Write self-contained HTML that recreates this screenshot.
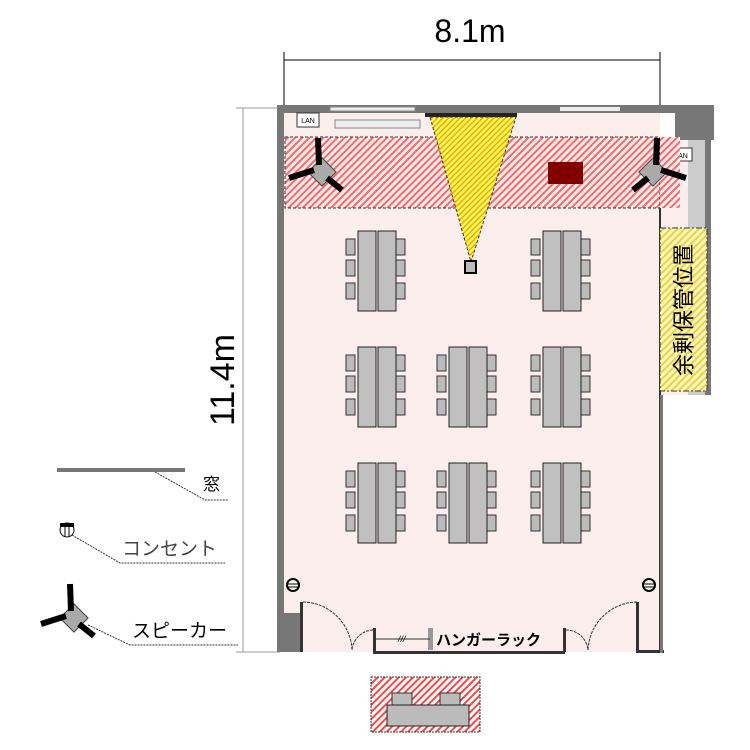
<!DOCTYPE html>
<html><head><meta charset="utf-8"><style>body{margin:0;background:#fff}svg{display:block}</style></head><body>
<svg width="750" height="750" xmlns="http://www.w3.org/2000/svg" font-family="Liberation Sans, Noto Sans CJK JP, sans-serif">
<defs>
<pattern id="h" width="5" height="5" patternUnits="userSpaceOnUse" patternTransform="rotate(45)"><rect width="5" height="5" fill="#fff"/><rect width="2" height="5" fill="#f44"/></pattern>
<pattern id="hp" width="5" height="5" patternUnits="userSpaceOnUse" patternTransform="rotate(45)"><rect width="5" height="5" fill="#fdeeee"/><rect width="2" height="5" fill="#f66"/></pattern>
<pattern id="y" width="5" height="5" patternUnits="userSpaceOnUse" patternTransform="rotate(45)"><rect width="5" height="5" fill="#fff8c0"/><rect width="2" height="5" fill="#f0d040"/></pattern>
<pattern id="yt" width="4" height="4" patternUnits="userSpaceOnUse" patternTransform="rotate(45)"><rect width="4" height="4" fill="#ffff40"/><rect width="1.5" height="4" fill="#f0a030"/></pattern>
<g id="grp">
<rect x="0" y="8" width="9" height="16" fill="#bbb" stroke="#333"/><rect x="0" y="29" width="9" height="16" fill="#bbb" stroke="#333"/><rect x="0" y="52" width="9" height="16" fill="#bbb" stroke="#333"/>
<rect x="50" y="8" width="9" height="16" fill="#bbb" stroke="#333"/><rect x="50" y="29" width="9" height="16" fill="#bbb" stroke="#333"/><rect x="50" y="52" width="9" height="16" fill="#bbb" stroke="#333"/>
<rect x="12" y="0" width="18" height="80" fill="#c0c0c0" stroke="#222"/><rect x="32" y="0" width="18" height="80" fill="#c0c0c0" stroke="#222"/>
</g>
<g id="spk"><rect x="-10" y="-10" width="20" height="20" fill="#aaa" stroke="#444" transform="rotate(45)"/><path d="M-3,-7 L-4,-34 M-8,-2 L-33,6 M5,6 L20,18" stroke="#000" stroke-width="6"/></g>
</defs>
<text x="470" y="42" font-size="32" text-anchor="middle">8.1m</text>
<line x1="284" y1="60" x2="660" y2="60" stroke="#000"/>
<line x1="284" y1="52" x2="284" y2="112" stroke="#000"/><line x1="660" y1="52" x2="660" y2="112" stroke="#000"/>
<line x1="243" y1="108" x2="243" y2="652" stroke="#999"/>
<line x1="236" y1="108" x2="280" y2="108" stroke="#999"/><line x1="236" y1="652" x2="280" y2="652" stroke="#999"/>
<text transform="translate(234,380) rotate(-90)" font-size="34" text-anchor="middle">11.4m</text>
<rect x="284" y="112" width="376" height="540" fill="#fdeeee"/>
<rect x="660" y="140" width="51" height="255" fill="#fdeeee"/>
<rect x="277" y="105" width="437" height="8" fill="#777"/>
<rect x="277" y="105" width="7" height="547" fill="#777"/>
<rect x="675" y="105" width="39" height="35" fill="#777"/>
<rect x="705" y="140" width="6" height="255" fill="#777"/>
<rect x="688" y="140" width="17" height="255" fill="#ccc"/>
<line x1="660" y1="140" x2="660" y2="652" stroke="#333" stroke-width="2"/>
<rect x="330" y="107" width="85" height="4" fill="#eee" stroke="#888"/>
<rect x="335" y="120" width="85" height="8" fill="#eee" stroke="#888"/>
<rect x="560" y="107" width="60" height="4" fill="#eee"/>
<rect x="297" y="113" width="22" height="14" fill="#fff" stroke="#333"/><text x="308" y="123" font-size="7" text-anchor="middle">LAN</text>
<rect x="670" y="148" width="22" height="13" fill="#fff" stroke="#333"/><text x="681" y="158" font-size="7" text-anchor="middle">LAN</text>
<rect x="285" y="137" width="375" height="71" fill="url(#hp)" stroke="#333" stroke-dasharray="3,2"/>
<rect x="660" y="137" width="20" height="71" fill="url(#hp)"/>
<rect x="548" y="162" width="35" height="22" fill="#800000"/>
<rect x="425" y="113" width="92" height="4" fill="#222"/>
<polygon points="430,117 516,117 471,262" fill="url(#yt)" stroke="#333" stroke-dasharray="3,2"/>
<rect x="465" y="261" width="11" height="12" fill="#bbb" stroke="#000" stroke-width="2"/>
<use href="#spk" transform="translate(322,172)"/>
<use href="#spk" transform="translate(653,172) scale(-1,1)"/>
<rect x="660" y="228" width="47" height="163" fill="url(#y)" stroke="#333" stroke-dasharray="6,2,2,2"/>
<text transform="translate(684,310) rotate(-90)" font-size="22" text-anchor="middle" dominant-baseline="central">余剰保管位置</text>
<use href="#grp" x="346" y="231"/><use href="#grp" x="531" y="231"/>
<use href="#grp" x="346" y="347"/><use href="#grp" x="437" y="347"/><use href="#grp" x="531" y="347"/>
<use href="#grp" x="346" y="463"/><use href="#grp" x="437" y="463"/><use href="#grp" x="531" y="463"/>
<rect x="284" y="613" width="18" height="39" fill="#777"/>
<rect x="300" y="602" width="3" height="50" fill="#333"/>
<path d="M303,602 A50,50 0 0 1 352,650 M373,630 A22,22 0 0 0 352,650" fill="none" stroke="#333" stroke-dasharray="3,1"/>
<rect x="373" y="651" width="192" height="3" fill="#333"/>
<rect x="373" y="628" width="3" height="24" fill="#333"/><rect x="563" y="628" width="3" height="24" fill="#333"/>
<rect x="428" y="628" width="5" height="22" fill="#999"/>
<line x1="376" y1="639" x2="430" y2="639" stroke="#333"/>
<text x="398" y="642" font-size="9" font-style="italic">///</text>
<text x="436" y="645" font-size="15" font-weight="bold">ハンガーラック</text>
<path d="M637,602 A50,50 0 0 0 588,650 M566,630 A22,22 0 0 1 588,650" fill="none" stroke="#333" stroke-dasharray="3,1"/>
<rect x="636" y="602" width="3" height="50" fill="#333"/>
<rect x="636" y="650" width="28" height="3" fill="#333"/>
<rect x="660" y="395" width="3" height="258" fill="#777"/>
<circle cx="293" cy="585" r="6" fill="#fff" stroke="#000" stroke-width="2"/><line x1="288" y1="584" x2="298" y2="584" stroke="#000"/><line x1="288" y1="587" x2="298" y2="587" stroke="#000"/>
<circle cx="649" cy="585" r="6" fill="#fff" stroke="#000" stroke-width="2"/><line x1="644" y1="584" x2="654" y2="584" stroke="#000"/><line x1="644" y1="587" x2="654" y2="587" stroke="#000"/>
<rect x="371" y="677" width="109" height="55" fill="url(#h)" stroke="#333" stroke-dasharray="2,1"/>
<rect x="392" y="693" width="20" height="14" fill="#bbb" stroke="#333"/><rect x="440" y="693" width="20" height="14" fill="#bbb" stroke="#333"/>
<rect x="387" y="705" width="82" height="21" fill="#bbb" stroke="#222"/>
<rect x="57" y="468" width="128" height="4" fill="#777"/>
<path d="M155,472 L205,500 L228,500" fill="none" stroke="#333" stroke-dasharray="2,1"/>
<text x="203" y="490" font-size="17">窓</text>
<circle cx="67" cy="530" r="7" fill="#fff" stroke="#000"/><rect x="60" y="523" width="14" height="4" fill="#000"/><line x1="65" y1="524" x2="65" y2="537" stroke="#000"/><line x1="69" y1="524" x2="69" y2="537" stroke="#000"/>
<path d="M72,535 L120,563 L225,563" fill="none" stroke="#333" stroke-dasharray="2,1"/>
<text x="122" y="555" font-size="19" fill="#444">コンセント</text>
<use href="#spk" transform="translate(74,618)"/>
<path d="M88,625 L130,645 L238,645" fill="none" stroke="#333" stroke-dasharray="2,1"/>
<text x="132" y="637" font-size="19">スピーカー</text>
</svg>
</body></html>
